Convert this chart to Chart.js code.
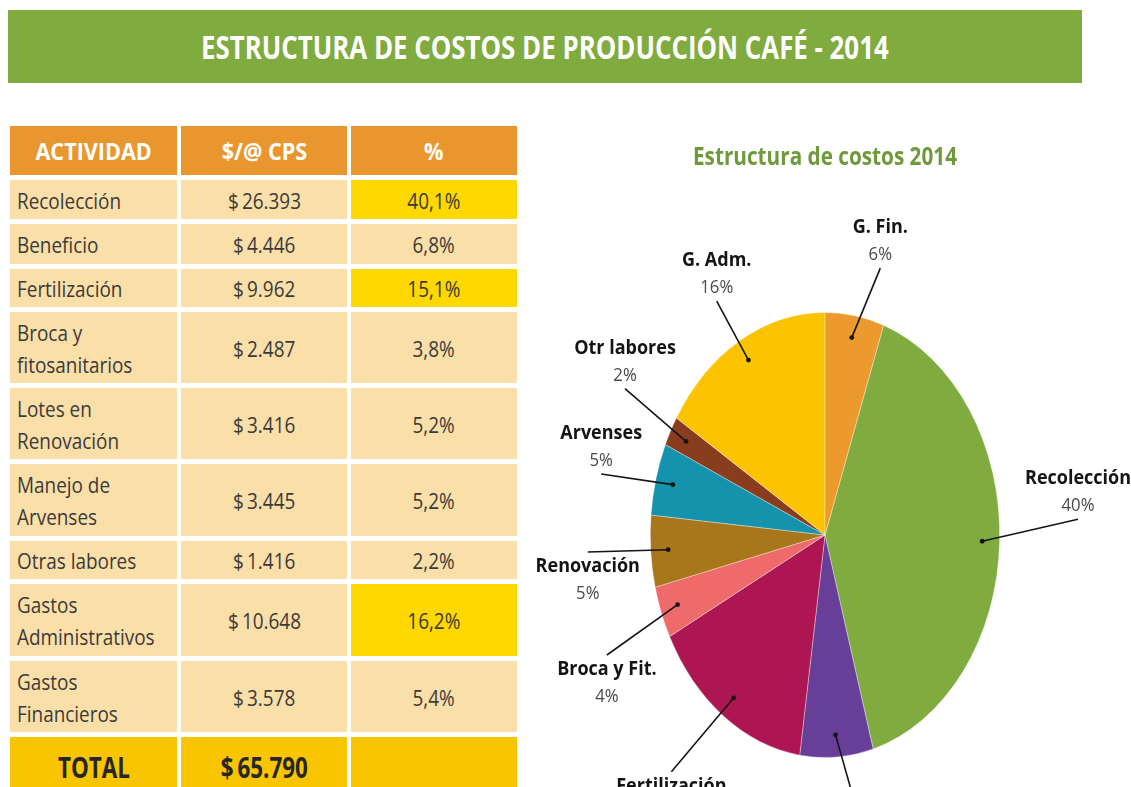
<!DOCTYPE html>
<html><head><meta charset="utf-8">
<script src="https://cdn.jsdelivr.net/npm/chart.js@4.4.1/dist/chart.umd.min.js"></script>
<style>
html,body{margin:0;padding:0;background:#fff;width:1131px;height:787px;overflow:hidden;position:relative;font-family:"Open Sans",sans-serif;}
#banner{position:absolute;left:8px;top:10px;width:1074px;height:73px;background:#80AB3F;display:flex;align-items:center;justify-content:center;}
#banner span{display:inline-block;color:#fff;font-weight:700;font-size:33px;white-space:nowrap;transform-origin:center center;}
table{position:absolute;left:6px;top:121px;border-collapse:separate;border-spacing:4px 5px;table-layout:fixed;}
td{padding:0;background:#FBDFA9;color:#3a3a3a;font-size:22px;line-height:32px;overflow:hidden;white-space:nowrap;vertical-align:middle;}
td span{display:inline-block;}
td.n{text-align:left;padding-left:7px;}
td.n span{transform:scaleX(.86);transform-origin:left center;}
td.v{text-align:center;}
td.v span{transform:scaleX(.86);transform-origin:center center;}
td.hl{background:#FFD800;}
tr.head td{background:#E9962E;color:#fff;font-weight:700;font-size:24px;text-align:center;}
tr.head td span{transform:scaleX(.9);transform-origin:center center;}
tr.tot td{background:#F9C400;color:#262626;font-weight:700;font-size:28px;text-align:center;}
tr.tot td span{transform:scaleX(.8);transform-origin:center center;}
#pie{position:absolute;left:520px;top:100px;}
</style>
</head><body>
<div id="banner"><span id="bt">ESTRUCTURA DE COSTOS DE PRODUCCIÓN CAFÉ - 2014</span></div>
<table id="tbl"></table>
<canvas id="pie" width="611" height="687"></canvas>
<script>
// ---- data ----
const tableHeaders = ['ACTIVIDAD', '$/@ CPS', '%'];
const activities = ['Recolección', 'Beneficio', 'Fertilización', 'Broca y|fitosanitarios', 'Lotes en|Renovación', 'Manejo de|Arvenses', 'Otras labores', 'Gastos|Administrativos', 'Gastos|Financieros'];
const costs = [26393, 4446, 9962, 2487, 3416, 3445, 1416, 10648, 3578];
const tablePct = ['40,1%', '6,8%', '15,1%', '3,8%', '5,2%', '5,2%', '2,2%', '16,2%', '5,4%'];
const pctValues = [40.1, 6.8, 15.1, 3.8, 5.2, 5.2, 2.2, 16.2, 5.4];
const totalLabel = 'TOTAL';
const totalCost = 65790;
const chartTitle = 'Estructura de costos 2014';
const pieNames = ['Recolección', 'Beneficio', 'Fertilización', 'Broca y Fit.', 'Renovación', 'Arvenses', 'Otr labores', 'G. Adm.', 'G. Fin.'];
const piePct = ['40%', '7%', '15%', '4%', '5%', '5%', '2%', '16%', '6%'];

// ---- styles / layout ----
const sliceColors = ['#80AC3F', '#673F99', '#AD1653', '#EF6B6B', '#A8761B', '#1693AC', '#8A3C1E', '#FCC300', '#EC9A2E'];
const rowHeights = [49, 39, 40, 38, 71, 71, 72, 38, 72, 71, 60];
const colWidths = [167, 166, 166];
const labelRadius = [1.45, 1.3, 1.38, 1.36, 1.36, 1.31, 1.32, 1.22, 1.24];
const labelShift = [-4.6, -5, 4, -3, 1, -2.5, 2, -1.4, 5];
const SY = 1.274;

function money(v){
  const s = String(v);
  return '$\u2009' + s.replace(/\B(?=(\d{3})+(?!\d))/g, '.');
}

// ---- table ----
const tbl = document.getElementById('tbl');
let html = '<colgroup>' + colWidths.map(w => '<col style="width:' + w + 'px">').join('') + '</colgroup>';
html += '<tr class="head" style="height:' + rowHeights[0] + 'px">' + tableHeaders.map(h => '<td><span>' + h + '</span></td>').join('') + '</tr>';
activities.forEach((a, i) => {
  const hl = pctValues[i] > 15 ? ' hl' : '';
  html += '<tr style="height:' + rowHeights[i + 1] + 'px"><td class="n"><span>' + a.split('|').join('<br>') + '</span></td>' +
    '<td class="v"><span>' + money(costs[i]) + '</span></td>' +
    '<td class="v' + hl + '"><span>' + tablePct[i] + '</span></td></tr>';
});
html += '<tr class="tot" style="height:' + rowHeights[10] + 'px"><td><span>' + totalLabel + '</span></td><td><span>' + money(totalCost) + '</span></td><td></td></tr>';
tbl.innerHTML = html;

// banner fit
const bt = document.getElementById('bt');
bt.style.transform = 'scaleX(' + (688 / bt.offsetWidth) + ')';

// ---- chart ----
const totalSum = costs.reduce((a, b) => a + b, 0);
const rotationDeg = costs[costs.length - 1] / totalSum * 360;

function txt(ctx, t, x, y, font, color, sx){
  ctx.save(); ctx.font = font; ctx.fillStyle = color; ctx.textAlign = 'center'; ctx.textBaseline = 'alphabetic';
  ctx.translate(x, y); ctx.scale(sx, 1); ctx.fillText(t, 0, 0); ctx.restore();
}

const ellipsePlugin = {
  id: 'ellipse',
  beforeDatasetsDraw(chart){
    const a = chart.getDatasetMeta(0).data[0];
    const ctx = chart.ctx;
    ctx.save(); ctx.translate(a.x, a.y); ctx.scale(1, SY); ctx.translate(-a.x, -a.y);
  },
  afterDatasetsDraw(chart){ chart.ctx.restore(); }
};

const labelPlugin = {
  id: 'callouts',
  afterDraw(chart){
    const ctx = chart.ctx;
    const meta = chart.getDatasetMeta(0);
    const c0 = meta.data[0];
    // chart title
    ctx.save(); ctx.font = 'bold 25px "Open Sans"';
    const tw = ctx.measureText(chartTitle).width; ctx.restore();
    txt(ctx, chartTitle, c0.x, 65, 'bold 25px "Open Sans"', '#6F9A3B', 264 / tw);
    meta.data.forEach((arc, i) => {
      const p = arc.getProps(['x', 'y', 'startAngle', 'endAngle', 'outerRadius'], true);
      const mid = (p.startAngle + p.endAngle) / 2;
      const r = p.outerRadius;
      const dx = p.x + Math.cos(mid) * r * 0.9;
      const dy = p.y + Math.sin(mid) * r * 0.9 * SY;
      const la = mid + labelShift[i] * Math.PI / 180;
      const lx = p.x + Math.cos(la) * r * labelRadius[i];
      const ly = p.y + Math.sin(la) * r * labelRadius[i] * SY;
      ctx.save();
      ctx.strokeStyle = '#151515'; ctx.lineWidth = 1.6;
      ctx.beginPath(); ctx.moveTo(lx, ly); ctx.lineTo(dx, dy); ctx.stroke();
      ctx.fillStyle = '#151515'; ctx.beginPath(); ctx.arc(dx, dy, 2.4, 0, Math.PI * 2); ctx.fill();
      ctx.restore();
      const nameFont = 'bold 20px "Open Sans"';
      const pctFont = '18px "Open Sans"';
      if (ly < p.y) {
        txt(ctx, piePct[i], lx, ly - 8, pctFont, '#4a4a4a', 0.93);
        txt(ctx, pieNames[i], lx, ly - 35, nameFont, '#141414', 0.9);
      } else {
        txt(ctx, pieNames[i], lx, ly + 20, nameFont, '#141414', 0.9);
        txt(ctx, piePct[i], lx, ly + 47, pctFont, '#4a4a4a', 0.93);
      }
    });
  }
};

new Chart(document.getElementById('pie'), {
  type: 'pie',
  data: {
    labels: pieNames,
    datasets: [{
      data: costs,
      backgroundColor: sliceColors,
      borderColor: 'rgba(255,255,255,0.5)',
      borderWidth: 0.6,
      clip: false
    }]
  },
  options: {
    responsive: false,
    devicePixelRatio: 1,
    animation: false,
    rotation: rotationDeg,
    layout: { padding: { left: 130, right: 131, top: 260, bottom: 77 } },
    plugins: { legend: { display: false }, tooltip: { enabled: false }, title: { display: false } },
    events: []
  },
  plugins: [ellipsePlugin, labelPlugin]
});
</script>
</body></html>
